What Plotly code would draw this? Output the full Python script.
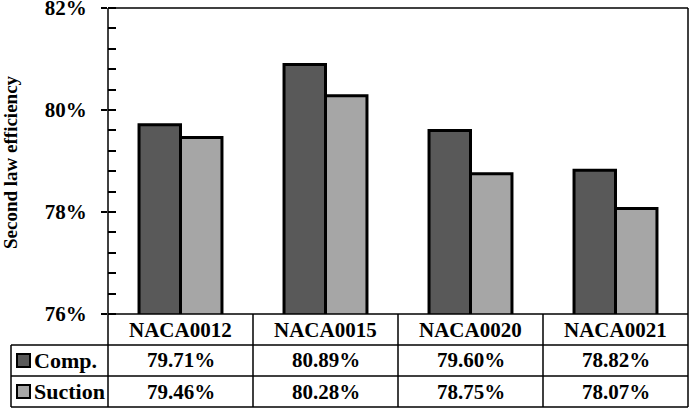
import plotly.graph_objects as go

categories = ["NACA0012", "NACA0015", "NACA0020", "NACA0021"]
series_names = ["Comp.", "Suction"]
comp = [79.71, 80.89, 79.60, 78.82]
suction = [79.46, 80.28, 78.75, 78.07]
y_title = "Second law efficiency"
y_range = [76, 82]
y_ticks = [76, 78, 80, 82]

colors = ["#595959", "#a6a6a6"]
FONT = "Liberation Serif"

W, H = 694, 410
ML, MR, MT, MB = 108, 6, 8, 96
PW = W - ML - MR
PH = H - MT - MB


def px_x(p):
    return (p - ML) / PW


def px_y(p):
    return (H - MB - p) / PH


fig = go.Figure()
for name, vals, col in zip(series_names, [comp, suction], colors):
    fig.add_trace(go.Bar(
        x=categories, y=vals, name=name,
        marker=dict(color=col, line=dict(color="black", width=3)),
        showlegend=False,
    ))
fig.add_trace(go.Scatter(x=[], y=[], yaxis="y2", showlegend=False))

shapes = []
annotations = []

LW = 1.5
# plot frame as explicit lines
for (x0, y0, x1, y1) in [(0, 0, 1, 0), (0, 1, 1, 1), (0, 0, 0, 1), (1, 0, 1, 1)]:
    shapes.append(dict(type="line", xref="paper", yref="paper", x0=x0, y0=y0, x1=x1, y1=y1,
                       line=dict(color="black", width=LW), layer="above"))

row_bounds_px = [314, 345, 376, 407]
left_px = 11
ncol = len(categories)

for k in range(ncol + 1):
    shapes.append(dict(type="line", xref="paper", yref="paper",
                       x0=k / ncol, x1=k / ncol,
                       y0=px_y(row_bounds_px[0]), y1=px_y(row_bounds_px[-1]),
                       line=dict(color="black", width=LW)))
shapes.append(dict(type="line", xref="paper", yref="paper",
                   x0=px_x(left_px), x1=px_x(left_px),
                   y0=px_y(row_bounds_px[1]), y1=px_y(row_bounds_px[-1]),
                   line=dict(color="black", width=LW)))
for r in row_bounds_px[1:]:
    shapes.append(dict(type="line", xref="paper", yref="paper",
                       x0=px_x(left_px), x1=1,
                       y0=px_y(r), y1=px_y(r),
                       line=dict(color="black", width=LW)))

row_centers = [(row_bounds_px[i] + row_bounds_px[i + 1]) / 2 for i in range(3)]

for c in categories:
    annotations.append(dict(x=c, xref="x", y=px_y(row_centers[0]), yref="paper",
                            text=f"<b>{c}</b>", showarrow=False, xanchor="center", yanchor="middle",
                            font=dict(family=FONT, size=21, color="black")))

for ri, (name, vals, col) in enumerate(zip(series_names, [comp, suction], colors)):
    cy = row_centers[ri + 1]
    for c, v in zip(categories, vals):
        annotations.append(dict(x=c, xref="x", y=px_y(cy), yref="paper",
                                text=f"<b>{v:.2f}%</b>", showarrow=False,
                                xanchor="center", yanchor="middle",
                                font=dict(family=FONT, size=21, color="black")))
    s = 13
    shapes.append(dict(type="rect", xref="paper", yref="paper",
                       x0=px_x(17), x1=px_x(17 + s),
                       y0=px_y(cy - s / 2), y1=px_y(cy + s / 2),
                       fillcolor=col, line=dict(color="black", width=2)))
    annotations.append(dict(x=px_x(32), xref="paper", y=px_y(cy), yref="paper",
                            text=f"<b>{name}</b>", showarrow=False, xanchor="left", yanchor="middle",
                            font=dict(family=FONT, size=22, color="black")))

annotations.append(dict(x=px_x(10), xref="paper", y=px_y(162), yref="paper",
                        text=f"<b>{y_title}</b>", textangle=-90, showarrow=False,
                        xanchor="center", yanchor="middle",
                        font=dict(family=FONT, size=19, color="black")))

fig.update_layout(
    template="none",
    width=W, height=H,
    margin=dict(l=ML, r=MR, t=MT, b=MB, pad=0, autoexpand=False),
    paper_bgcolor="white", plot_bgcolor="white",
    barmode="group", bargap=0.428, bargroupgap=0,
    xaxis=dict(showline=False, showticklabels=False, ticks="",
               showgrid=False, zeroline=False, automargin=False),
    yaxis=dict(range=y_range, tickvals=y_ticks,
               ticktext=[f"<b>{t}%</b>" for t in y_ticks],
               ticklabeloverflow="allow",
               showline=False, automargin=False,
               ticks="outside", ticklen=6, tickwidth=LW, tickcolor="black",
               ticklabelstandoff=10,
               tickfont=dict(family=FONT, size=21, color="black"),
               minor=dict(dtick=0.4, tick0=76, ticks="inside", ticklen=8,
                          tickwidth=LW, tickcolor="black", showgrid=False),
               showgrid=False, zeroline=False),
    yaxis2=dict(range=y_range, overlaying="y", side="left", anchor="x",
                tickvals=y_ticks, ticks="inside", ticklen=8, tickwidth=LW,
                tickcolor="black", showticklabels=False, showgrid=False,
                zeroline=False, showline=False, automargin=False),
    shapes=shapes,
    annotations=annotations,
)

fig.write_html("out.html")
